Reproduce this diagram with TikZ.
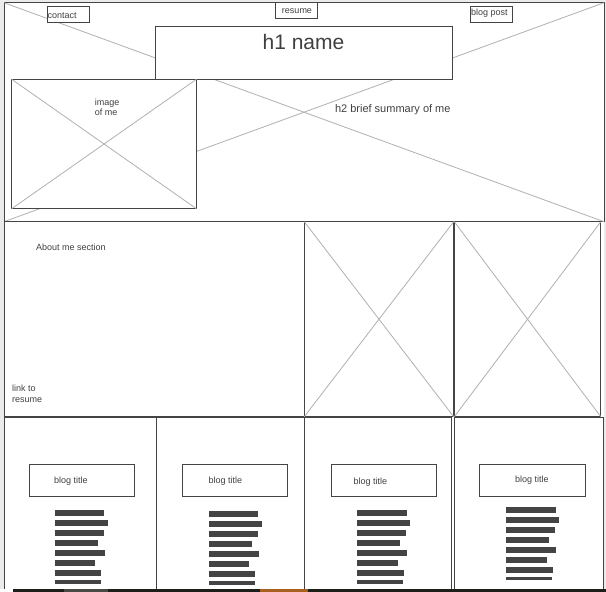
\documentclass[tikz,border=0pt]{standalone}
\usepackage{fontspec}
\setmainfont{Liberation Sans}
\definecolor{edgec}{HTML}{444444}
\definecolor{xc}{HTML}{B0B0B0}
\definecolor{txtc}{HTML}{404040}
\definecolor{barc}{HTML}{444444}
\definecolor{pagebg}{HTML}{EBEBEB}
\definecolor{stripc}{HTML}{1E1E18}
\definecolor{stripg}{HTML}{4A4A45}
\definecolor{stripo}{HTML}{A8601F}
\newcommand\mkbox[6][]{\node[box,#1,anchor=north west,minimum width={(#4-#2)*1pt},minimum height={(#5-#3)*1pt}] (#6) at (#2,#3) {};}
\begin{document}
\begin{tikzpicture}[x=1pt,y=-1pt,
  box/.style={draw=edgec,fill=white,line width=1pt,inner sep=0pt,outer sep=0pt},
  xline/.style={draw=xc,line width=0.8pt},
  lbl/.style={text=txtc,inner sep=0pt,anchor=west,font=\fontsize{9}{10.5}\selectfont,align=left},
  bar/.style={fill=barc}]
\useasboundingbox (0,0) rectangle (606,592);
\fill[pagebg] (0,0) rectangle (606,592);
\fill[white] (4,3) rectangle (604,589);
% hero
\mkbox{4}{2.7}{604}{221.7}{hero}
\draw[xline] (hero.north west) -- (hero.south east);
\draw[xline] (hero.north east) -- (hero.south west);
\mkbox{47.3}{6.3}{89.7}{22.3}{contactbox}
\mkbox{275.6}{2.7}{317.4}{18.3}{resumebox}
\mkbox{470.3}{6.3}{512.7}{22.3}{blogpostbox}
\mkbox{155.3}{26.3}{452.7}{79.3}{hone}
\mkbox{11.7}{79.3}{196.4}{208.7}{img}
\draw[xline] (img.north west) -- (img.south east);
\draw[xline] (img.north east) -- (img.south west);
% middle
\mkbox{4}{221.7}{304.3}{416.5}{about}
\mkbox{304.3}{221.7}{453.7}{416.7}{picA}
\mkbox{454.3}{221.7}{600.8}{416.7}{picB}
\draw[xline] (picA.north west) -- (picA.south east);
\draw[xline] (picA.north east) -- (picA.south west);
\draw[xline] (picB.north west) -- (picB.south east);
\draw[xline] (picB.north east) -- (picB.south west);
% bottom columns
\mkbox{4}{417.5}{156.3}{595}{colA}
\mkbox{156.3}{417.5}{304.3}{595}{colB}
\mkbox{304.3}{417.5}{451.3}{595}{colC}
\mkbox{454}{417.5}{603.7}{595}{colD}
\mkbox{29.3}{464}{134.7}{496.7}{titleA}
\mkbox{182.3}{464}{287.7}{496.7}{titleB}
\mkbox{331.3}{464}{436.7}{496.7}{titleC}
\mkbox{479.3}{464}{585.7}{496.7}{titleD}
% text bars
\foreach \w [count=\i from 0] in {49,53,49,43,50,40,46,46}
  \fill[bar] (55,510+10*\i) rectangle ++(\w,{\i==7 ? 4 : 6});
\foreach \w [count=\i from 0] in {49,53,49,43,50,40,46,46}
  \fill[bar] (209,511+10*\i) rectangle ++(\w,{\i==7 ? 4 : 6});
\foreach \w [count=\i from 0] in {50,53,49,43,50,41,47,46}
  \fill[bar] (357,510+10*\i) rectangle ++(\w,{\i==7 ? 4 : 6});
\foreach \w [count=\i from 0] in {50,53,49,43,50,41,47,46}
  \fill[bar] (506,507+10*\i) rectangle ++(\w,{\i==7 ? 3 : 6});
% texts
\node[lbl] (contacttxt) at (47.5,15.3) {contact};
\node[lbl,anchor=center] (resumetxt) at (297,11.5) {resume};
\node[lbl] (blogposttxt) at (471,13.2) {blog post};
\node[lbl,anchor=center,font=\fontsize{21}{24}\selectfont] (honetxt) at (303.5,41.5) {h1 name};
\node[lbl,font=\fontsize{11}{13}\selectfont] (htwotxt) at (334.8,110) {h2 brief summary of me};
\node[lbl,font=\fontsize{9}{10}\selectfont] (imgtxt) at (94.7,107.5) {image\\of me};
\node[lbl] (abouttxt) at (36,247.3) {About me section};
\node[lbl,font=\fontsize{9}{10.6}\selectfont] (linktxt) at (12,393.5) {link to\\resume};
\node[lbl] (titleAtxt) at (54,481.3) {blog title};
\node[lbl] (titleBtxt) at (208.3,481.3) {blog title};
\node[lbl] (titleCtxt) at (353.3,482.3) {blog title};
\node[lbl] (titleDtxt) at (515,480.3) {blog title};
% bottom strip
\fill[white] (0,589) rectangle (12.7,592);
\fill[stripc] (12.7,589) rectangle (606,592);
\fill[stripg] (64,589) rectangle (108,592);
\fill[stripo] (260,589) rectangle (308,592);
\end{tikzpicture}
\end{document}
